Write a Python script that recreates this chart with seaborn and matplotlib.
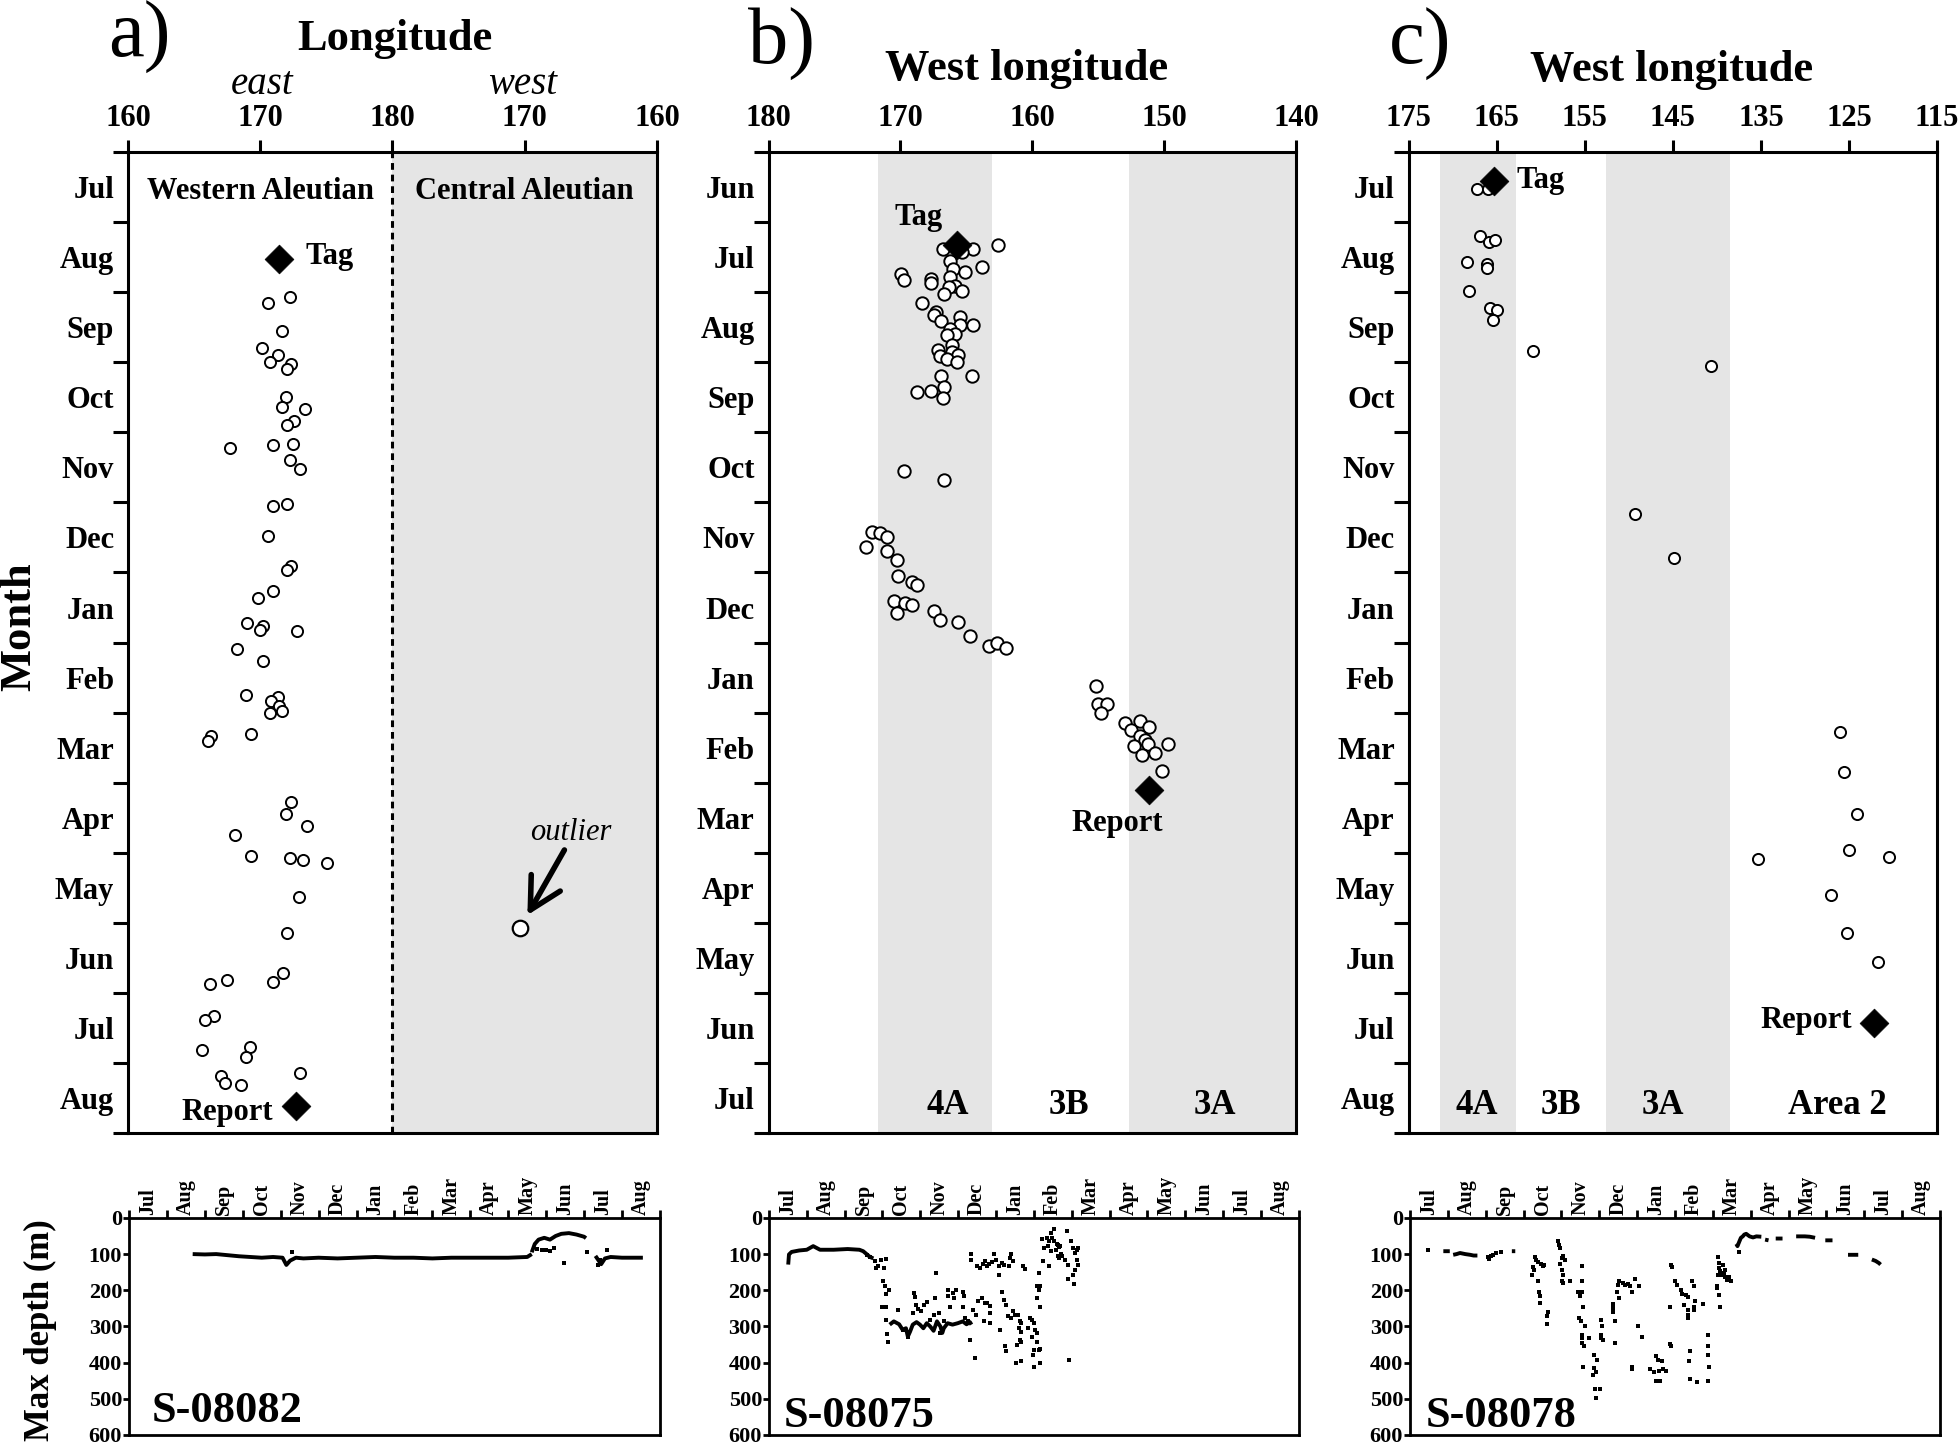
import matplotlib
matplotlib.use('Agg')
import matplotlib.pyplot as plt
import seaborn as sns
import pandas as pd

# ---------------- DATA ----------------
months_a = ['Jul', 'Aug', 'Sep', 'Oct', 'Nov', 'Dec', 'Jan', 'Feb', 'Mar', 'Apr', 'May', 'Jun', 'Jul', 'Aug']
months_b = ['Jun', 'Jul', 'Aug', 'Sep', 'Oct', 'Nov', 'Dec', 'Jan', 'Feb', 'Mar', 'Apr', 'May', 'Jun', 'Jul']
months_c = months_a
months_depth = months_a

# panel a x-axis: continuous scale 160E..180..160W (values >180 are west longitudes as 360-W)
a_xticks = [160, 170, 180, 190, 200]
a_xticklabels = ['160', '170', '180', '170', '160']
b_xticks = [180, 170, 160, 150, 140]
c_xticks = [175, 165, 155, 145, 135, 125, 115]
depth_ticks = [0, 100, 200, 300, 400, 500, 600]

# (longitude, month index) of daily positions
a_circles = [(170.56, 2.16), (172.23, 2.07), (171.67, 2.56), (170.16, 2.80), (171.31, 2.89), (170.75, 2.99),
             (172.29, 3.02), (172.03, 3.10), (171.96, 3.50), (171.67, 3.64), (173.35, 3.67), (172.55, 3.84),
             (172.00, 3.90), (167.74, 4.22), (170.98, 4.18), (172.49, 4.16), (172.26, 4.40), (172.98, 4.52),
             (170.98, 5.05), (172.00, 5.02), (170.59, 5.48), (172.29, 5.91), (172.00, 5.96), (170.98, 6.27),
             (169.80, 6.37), (169.01, 6.72), (170.23, 6.76), (170.00, 6.82), (172.79, 6.84), (168.26, 7.09),
             (170.23, 7.27), (168.94, 7.75), (171.31, 7.77), (170.82, 7.84), (171.41, 7.91), (170.72, 8.00),
             (171.67, 7.98), (166.29, 8.33), (166.06, 8.41), (169.28, 8.30), (172.29, 9.27), (171.96, 9.45),
             (173.53, 9.62), (168.06, 9.74), (169.28, 10.04), (172.23, 10.08), (173.24, 10.11), (175.02, 10.15),
             (172.94, 10.63), (172.06, 11.14), (171.73, 11.71), (170.98, 11.84), (166.19, 11.87), (167.51, 11.82),
             (166.53, 12.33), (165.80, 12.38), (165.57, 12.81), (169.24, 12.77), (168.94, 12.91), (167.02, 13.18),
             (167.31, 13.28), (168.55, 13.32), (173.01, 13.15)]
a_outlier = (189.67, 11.08)
a_tag = (171.41, 1.53)
a_report = (172.72, 13.62)

b_circles = [(162.58, 1.32), (166.79, 1.39), (164.53, 1.38), (165.36, 1.42), (166.22, 1.56), (163.83, 1.64),
             (166.00, 1.67), (165.10, 1.71), (169.98, 1.74), (169.76, 1.83), (167.72, 1.81), (167.72, 1.87),
             (166.22, 1.78), (165.90, 1.91), (166.35, 1.92), (165.36, 1.98), (166.67, 2.03), (168.39, 2.15),
             (167.33, 2.28), (167.49, 2.33), (166.92, 2.41), (165.48, 2.35), (165.48, 2.47), (164.53, 2.47),
             (166.22, 2.52), (165.90, 2.59), (166.48, 2.61), (166.12, 2.75), (167.17, 2.83), (166.12, 2.85),
             (165.64, 2.89), (167.02, 2.91), (166.48, 2.95), (165.74, 2.99), (166.96, 3.20), (164.60, 3.20),
             (166.67, 3.36), (168.75, 3.43), (167.72, 3.41), (166.79, 3.51), (169.73, 4.55), (166.70, 4.68),
             (172.12, 5.42), (171.55, 5.44), (171.01, 5.49), (172.63, 5.63), (171.01, 5.69), (170.27, 5.82),
             (170.17, 6.05), (169.15, 6.13), (168.77, 6.18), (170.46, 6.40), (169.67, 6.44), (169.09, 6.47),
             (170.27, 6.58), (167.46, 6.55), (167.02, 6.68), (165.64, 6.70), (164.72, 6.90), (163.32, 7.05),
             (162.71, 7.00), (162.00, 7.08), (155.18, 7.62), (155.06, 7.87), (154.33, 7.88), (154.77, 8.01),
             (152.99, 8.15), (151.86, 8.12), (151.17, 8.21), (152.51, 8.25), (151.86, 8.33), (151.48, 8.39),
             (151.23, 8.45), (152.29, 8.48), (149.74, 8.45), (151.70, 8.61), (150.70, 8.58), (150.19, 8.84)]
b_tag = (165.74, 1.32)
b_report = (151.15, 9.10)

c_circles = [(167.20, 0.53), (165.95, 0.53), (166.86, 1.20), (165.90, 1.28), (165.19, 1.25), (168.35, 1.57),
             (166.15, 1.60), (166.15, 1.66), (168.11, 1.99), (165.72, 2.22), (165.00, 2.25), (165.43, 2.40),
             (160.93, 2.84), (140.69, 3.06), (149.31, 5.17), (144.86, 5.80), (125.97, 8.27), (125.58, 8.85),
             (124.04, 9.45), (125.00, 9.96), (135.30, 10.09), (120.45, 10.06), (127.06, 10.60), (125.19, 11.15),
             (121.70, 11.56)]
c_tag = (165.33, 0.41)
c_report = (122.14, 12.43)

# management areas (west longitude limits)
b_bands = [(171.7, 163.1), (152.7, 140.0)]
c_bands = [(171.4, 162.8), (152.6, 138.5)]
b_zones = [('4A', 166.45), ('3B', 157.24), ('3A', 146.2)]
c_zones = [('4A', 167.25), ('3B', 157.68), ('3A', 146.1), ('Area 2', 126.34)]

NaN = float('nan')
# daily max depth: dense runs (month index, depth m), NaN = gap
a_depth_run = [(1.68, 100), (2.0, 101), (2.3, 100), (2.6, 103), (2.9, 106), (3.2, 108), (3.5, 110), (3.8, 108),
               (4.05, 110), (4.15, 130), (4.25, 118), (4.4, 110), (4.6, 112), (5.0, 110), (5.5, 112), (6.0, 110),
               (6.5, 108), (7.0, 110), (7.5, 110), (8.0, 112), (8.5, 110), (9.0, 110), (9.5, 110), (10.0, 110),
               (10.5, 108), (10.62, 100), (NaN, NaN),
               (10.62, 95), (10.7, 72), (10.8, 60), (10.95, 55), (11.1, 60), (11.25, 50), (11.4, 44), (11.6, 42),
               (11.8, 46), (12.0, 52), (12.05, 56), (NaN, NaN),
               (12.3, 105), (12.45, 128), (12.55, 112), (12.7, 108), (13.0, 110), (13.3, 110), (13.55, 110)]
a_depth_pts = [(10.75, 85), (10.9, 90), (11.0, 88), (11.1, 92), (11.2, 82), (11.46, 126), (12.09, 94),
               (12.37, 131), (12.43, 117), (12.6, 89), (4.3, 94)]

b_depth_run = [(0.51, 129), (0.53, 101), (0.60, 94), (0.80, 90), (1.00, 88), (1.17, 78), (1.35, 88), (1.71, 88),
               (2.08, 86), (2.39, 88), (2.49, 92), (2.58, 100), (2.67, 108), (2.76, 112), (NaN, NaN),
               (3.19, 295), (3.30, 286), (3.44, 294), (3.53, 309), (3.62, 305), (3.67, 328), (3.73, 314),
               (3.80, 295), (3.90, 288), (3.99, 295), (4.08, 305), (4.17, 291), (4.26, 300), (4.35, 312),
               (4.44, 286), (4.53, 300), (4.58, 318), (4.62, 305), (4.72, 291), (4.85, 295), (4.99, 291),
               (5.12, 286), (5.22, 294), (5.31, 288), (5.35, 295)]
b_depth_pts = [(2.58, 102), (2.67, 109), (2.79, 118), (2.82, 138), (2.89, 134), (2.97, 115), (3.08, 113),
               (3.03, 138), (3.01, 174), (3.06, 187), (3.09, 210), (3.17, 198), (2.99, 245), (3.10, 245),
               (3.08, 282), (3.12, 321), (3.14, 343),
               (3.40, 254), (3.82, 208), (3.85, 220), (3.88, 240), (3.80, 263), (3.94, 251), (4.03, 258),
               (4.10, 240), (4.17, 233), (4.26, 282), (4.35, 268), (4.40, 222), (4.42, 152), (4.49, 263),
               (4.62, 286), (4.72, 198), (4.73, 217), (4.79, 245), (4.85, 208), (4.90, 222), (4.94, 198),
               (5.12, 205), (5.15, 217), (5.12, 245), (5.17, 277), (5.26, 286), (5.30, 337), (5.40, 254),
               (5.46, 268), (5.44, 386), (5.53, 231), (3.53, 309), (3.67, 328), (4.53, 318),
               (5.33, 100), (5.35, 115), (5.49, 134), (5.58, 138), (5.65, 127), (5.72, 120), (5.76, 134),
               (5.81, 127), (5.90, 122), (5.94, 100), (5.99, 115), (6.08, 134), (6.15, 125), (6.22, 129),
               (6.40, 100), (6.37, 111), (6.44, 120), (6.34, 134), (6.72, 134), (6.76, 140), (6.08, 159),
               (5.63, 222), (5.72, 235), (5.76, 235), (5.85, 243), (5.83, 263), (5.67, 286), (5.85, 291),
               (6.17, 205), (6.22, 226), (6.26, 240), (6.31, 272), (6.40, 277), (6.44, 257), (6.49, 268),
               (6.58, 268), (6.63, 284), (6.67, 291), (6.61, 305), (6.67, 314), (6.63, 337), (6.67, 342),
               (6.55, 351), (6.24, 355), (6.26, 369), (6.54, 401), (6.67, 395), (6.10, 309),
               (6.90, 277), (6.95, 282), (6.99, 291), (6.85, 305), (7.04, 309), (6.95, 328), (7.08, 318),
               (7.08, 342), (6.99, 365), (7.13, 365), (7.17, 362), (6.97, 378), (6.99, 411), (7.15, 401),
               (7.08, 189), (7.17, 189), (7.13, 198), (7.17, 245), (7.08, 222), (7.13, 152), (7.25, 120),
               (7.22, 58), (7.35, 55), (7.40, 65), (7.45, 42), (7.52, 32), (7.49, 55), (7.54, 63), (7.61, 72),
               (7.66, 81), (7.70, 78), (7.58, 88), (7.45, 92), (7.37, 78), (7.28, 83), (7.72, 100), (7.74, 106),
               (7.81, 115), (7.90, 129), (7.88, 35), (7.99, 65), (8.04, 83), (8.08, 97), (8.13, 88), (8.17, 83),
               (8.13, 115), (8.16, 129), (8.08, 143), (8.04, 157), (7.90, 168), (8.06, 183), (7.40, 134),
               (7.63, 106), (7.67, 111), (7.63, 76), (7.92, 392)]

c_depth_run = [(0.88, 92), (1.05, 92), (NaN, NaN),
               (1.14, 102), (1.23, 100), (1.32, 97), (1.46, 100), (1.59, 102), (1.68, 104), (1.78, 104), (NaN, NaN),
               (2.69, 92), (2.78, 92), (NaN, NaN),
               (8.62, 72), (8.65, 78), (8.70, 65), (8.74, 55), (8.79, 51), (8.83, 46), (8.88, 44), (8.97, 51),
               (9.06, 54), (9.15, 51), (9.28, 52), (NaN, NaN),
               (9.38, 60), (9.47, 62), (NaN, NaN), (9.66, 57), (9.84, 57), (NaN, NaN),
               (10.20, 51), (10.29, 51), (10.43, 51), (10.56, 52), (10.70, 55), (NaN, NaN),
               (10.97, 62), (11.16, 62), (NaN, NaN), (11.57, 102), (11.84, 102), (NaN, NaN),
               (12.20, 115), (12.30, 119), (12.39, 125), (12.43, 129)]
c_depth_pts = [(0.48, 88), (2.05, 109), (2.09, 114), (2.14, 106), (2.19, 102), (2.28, 97), (2.41, 95),
               (3.31, 109), (3.32, 115), (3.37, 122), (3.46, 127), (3.51, 134), (3.55, 129), (3.25, 137),
               (3.28, 143), (3.23, 157), (3.37, 175), (3.42, 205), (3.43, 217), (3.44, 235), (3.64, 260),
               (3.62, 272), (3.62, 292), (3.92, 63), (3.94, 74), (3.96, 83), (4.01, 111), (4.05, 106),
               (4.10, 115), (3.96, 127), (4.01, 143), (4.03, 157), (4.01, 174), (4.05, 180), (4.22, 174),
               (4.55, 134), (4.55, 174), (4.44, 205), (4.55, 205), (4.49, 217), (4.58, 245), (4.46, 277),
               (4.51, 286), (4.62, 300), (4.54, 323), (4.53, 332), (4.74, 332), (4.55, 346), (4.60, 355),
               (5.04, 282), (5.07, 300), (5.05, 323), (5.04, 332), (5.10, 337), (4.87, 378), (4.95, 392),
               (4.85, 414), (4.90, 425), (4.83, 434), (4.58, 411), (4.89, 473), (5.01, 473), (4.90, 497),
               (5.35, 238), (5.37, 249), (5.35, 260), (5.42, 284), (5.51, 222), (5.46, 205), (5.49, 185),
               (5.53, 175), (5.62, 180), (5.69, 185), (5.77, 183), (5.80, 189), (5.86, 205), (5.95, 168),
               (6.06, 189), (5.42, 346), (6.01, 300), (6.13, 330), (5.86, 411), (5.87, 417),
               (6.49, 383), (6.56, 392), (6.65, 395), (6.35, 417), (6.44, 425), (6.58, 423), (6.69, 417),
               (6.77, 423), (6.49, 450), (6.60, 450), (6.86, 245), (6.88, 349), (6.90, 355), (6.89, 129),
               (6.92, 135), (7.01, 175), (7.06, 185), (7.15, 198), (7.19, 210), (7.29, 214), (7.33, 220),
               (7.24, 240), (7.35, 254), (7.33, 268), (7.35, 277), (7.50, 245), (7.51, 254), (7.53, 231),
               (7.74, 238), (7.44, 175), (7.50, 189), (7.39, 367), (7.38, 395), (7.40, 445), (7.59, 454),
               (7.88, 452), (7.86, 323), (7.88, 355), (7.86, 378), (7.90, 411),
               (8.13, 109), (8.17, 125), (8.15, 138), (8.20, 146), (8.13, 157), (8.22, 159), (8.29, 152),
               (8.33, 162), (8.38, 171), (8.42, 164), (8.47, 175), (8.26, 129), (8.33, 143), (8.11, 189),
               (8.15, 212), (8.20, 245), (8.11, 194), (8.70, 94)]

# ---------------- STYLE ----------------
sns.set_theme(style='ticks')
plt.rcParams['font.family'] = ['Liberation Serif', 'DejaVu Serif']
plt.rcParams['font.weight'] = 'bold'
for k in ['text.color', 'axes.labelcolor', 'xtick.color', 'ytick.color', 'axes.edgecolor']:
    plt.rcParams[k] = 'black'

GREY = '#e5e5e5'
LW = 2.2

fig = plt.figure(figsize=(19.6, 14.48), dpi=100)
axA = fig.add_axes([0.0653, 0.2175, 0.2699, 0.6775])
axB = fig.add_axes([0.3921, 0.2175, 0.2693, 0.6775])
axC = fig.add_axes([0.7187, 0.2175, 0.2696, 0.6775])
dA = fig.add_axes([0.0658, 0.009, 0.2709, 0.1499])
dB = fig.add_axes([0.3923, 0.009, 0.2704, 0.1499])
dC = fig.add_axes([0.7194, 0.009, 0.2704, 0.1499])


def style_top(ax, months, xlim, xticks, xticklabels):
    ax.set_xlim(*xlim)
    ax.set_ylim(len(months), 0)
    ax.xaxis.tick_top()
    ax.set_xticks(xticks)
    ax.set_xticklabels(xticklabels, fontsize=22, fontweight='bold')
    ax.set_yticks(list(range(len(months) + 1)))
    ax.set_yticklabels([])
    ax.set_yticks([i + 0.5 for i in range(len(months))], minor=True)
    ax.set_yticklabels(months, minor=True, fontsize=22, fontweight='bold')
    ax.tick_params(axis='y', which='major', direction='out', length=11, width=LW, left=True, right=False)
    ax.tick_params(axis='y', which='minor', length=0, pad=10, left=True, right=False)
    ax.tick_params(axis='x', which='major', direction='out', length=9, width=LW, pad=5,
                   top=True, bottom=False, labeltop=True, labelbottom=False)
    ax.tick_params(axis='x', which='minor', length=0)
    for s in ax.spines.values():
        s.set_linewidth(LW)
        s.set_color('black')
        s.set_visible(True)
    ax.set_xlabel('')
    ax.set_ylabel('')
    ax.grid(False)


def style_depth(ax, months):
    ax.set_xlim(0, len(months))
    ax.set_ylim(600, 0)
    ax.xaxis.tick_top()
    ax.set_xticks(list(range(len(months) + 1)))
    ax.set_xticklabels([])
    ax.set_xticks([i + 0.5 for i in range(len(months))], minor=True)
    ax.set_xticklabels(months, minor=True, rotation=90, fontsize=14.5, fontweight='bold')
    ax.tick_params(axis='x', which='major', direction='out', length=6, width=2, top=True, bottom=False)
    ax.tick_params(axis='x', which='minor', length=0, pad=2, top=True, bottom=False,
                   labeltop=True, labelbottom=False)
    ax.set_yticks(depth_ticks)
    ax.set_yticklabels([str(t) for t in depth_ticks], fontsize=16, fontweight='bold')
    ax.tick_params(axis='y', which='major', direction='out', length=4, width=2, pad=1, left=True)
    for s in ax.spines.values():
        s.set_linewidth(2)
        s.set_color('black')
        s.set_visible(True)
    ax.set_xlabel('')
    ax.set_ylabel('')
    ax.grid(False)


def circles(ax, pts, s=70):
    df = pd.DataFrame(pts, columns=['lon', 'mon'])
    sns.scatterplot(data=df, x='lon', y='mon', ax=ax, marker='o', s=s, color='white',
                    edgecolor='black', linewidth=1.4, zorder=3, legend=False)


def diamond(ax, pt):
    df = pd.DataFrame([pt], columns=['lon', 'mon'])
    sns.scatterplot(data=df, x='lon', y='mon', ax=ax, marker='D', s=215, color='black',
                    edgecolor='black', linewidth=0.5, zorder=5, legend=False)


def depth(ax, run, pts):
    rdf = pd.DataFrame(run, columns=['mon', 'dep'])
    ax.plot(rdf['mon'], rdf['dep'], color='black', lw=2.8, solid_capstyle='butt', zorder=3)
    pdf = pd.DataFrame(pts, columns=['mon', 'dep'])
    sns.scatterplot(data=pdf, x='mon', y='dep', ax=ax, marker='s', s=11, color='black',
                    linewidth=0, zorder=3, legend=False)


TXT = dict(fontsize=22, fontweight='bold')

# ---- panel a ----
axA.axvspan(180, 200, color=GREY, lw=0, zorder=0)
axA.axvline(180, color='black', lw=LW, ls=(0, (2.2, 1.6)), zorder=2)
circles(axA, a_circles, s=64)
sns.scatterplot(x=[a_outlier[0]], y=[a_outlier[1]], ax=axA, marker='o', s=125, color='white',
                edgecolor='black', linewidth=1.6, zorder=3, legend=False)
diamond(axA, a_tag)
diamond(axA, a_report)
style_top(axA, months_a, (160, 200), a_xticks, a_xticklabels)
axA.text(170, 0.56, 'Western Aleutian', ha='center', va='center', **TXT)
axA.text(190, 0.56, 'Central Aleutian', ha='center', va='center', **TXT)
axA.text(173.4, 1.49, 'Tag', ha='left', va='center', **TXT)
axA.text(171.0, 13.70, 'Report', ha='right', va='center', **TXT)
axA.text(193.5, 9.71, 'outlier', ha='center', va='center', fontsize=22, fontweight='normal', style='italic')
axA.annotate('', xy=(190.2, 10.89), xytext=(193.0, 9.96),
             arrowprops=dict(arrowstyle='->,head_length=0.75,head_width=0.4', lw=4, color='black',
                             mutation_scale=30, shrinkA=0, shrinkB=0), zorder=4)

# ---- panel b ----
for lo, hi in b_bands:
    axB.axvspan(lo, hi, color=GREY, lw=0, zorder=0)
circles(axB, b_circles, s=80)
diamond(axB, b_tag)
diamond(axB, b_report)
style_top(axB, months_b, (180, 140), b_xticks, [str(t) for t in b_xticks])
axB.text(168.6, 0.93, 'Tag', ha='center', va='center', **TXT)
axB.text(153.6, 9.58, 'Report', ha='center', va='center', **TXT)
for name, lon in b_zones:
    axB.text(lon, 13.61, name, ha='center', va='center', fontsize=25, fontweight='bold')

# ---- panel c ----
for lo, hi in c_bands:
    axC.axvspan(lo, hi, color=GREY, lw=0, zorder=0)
circles(axC, c_circles, s=64)
diamond(axC, c_tag)
diamond(axC, c_report)
style_top(axC, months_c, (175, 115), c_xticks, [str(t) for t in c_xticks])
axC.text(162.8, 0.40, 'Tag', ha='left', va='center', **TXT)
axC.text(124.7, 12.40, 'Report', ha='right', va='center', **TXT)
for name, lon in c_zones:
    axC.text(lon, 13.6, name, ha='center', va='center', fontsize=25, fontweight='bold')

# ---- depth panels ----
depth(dA, a_depth_run, a_depth_pts)
depth(dB, b_depth_run, b_depth_pts)
depth(dC, c_depth_run, c_depth_pts)
for ax in (dA, dB, dC):
    style_depth(ax, months_depth)
dA.text(0.6, 565, 'S-08082', ha='left', va='baseline', fontsize=32, fontweight='bold')
dB.text(0.39, 577, 'S-08075', ha='left', va='baseline', fontsize=32, fontweight='bold')
dC.text(0.41, 577, 'S-08078', ha='left', va='baseline', fontsize=32, fontweight='bold')

# ---- figure texts ----
fig.text(0.0709, 0.9606, 'a)', fontsize=58, fontweight='normal', ha='center', va='baseline')
fig.text(0.3985, 0.9560, 'b)', fontsize=58, fontweight='normal', ha='center', va='baseline')
fig.text(0.7245, 0.9560, 'c)', fontsize=58, fontweight='normal', ha='center', va='baseline')
fig.text(0.2014, 0.9655, 'Longitude', fontsize=32, fontweight='bold', ha='center', va='baseline')
fig.text(0.1339, 0.9351, 'east', fontsize=28, fontweight='normal', style='italic', ha='center', va='baseline')
fig.text(0.2666, 0.9351, 'west', fontsize=28, fontweight='normal', style='italic', ha='center', va='baseline')
fig.text(0.5240, 0.9448, 'West longitude', fontsize=32, fontweight='bold', ha='center', va='baseline')
fig.text(0.8526, 0.9441, 'West longitude', fontsize=32, fontweight='bold', ha='center', va='baseline')
fig.text(0.0100, 0.567, 'Month', fontsize=32, fontweight='bold', rotation=90, ha='center', va='center')
fig.text(0.0207, 0.0815, 'Max depth (m)', fontsize=25, fontweight='bold', rotation=90, ha='center', va='center')

fig.savefig('out.png', dpi=100, facecolor='white')
